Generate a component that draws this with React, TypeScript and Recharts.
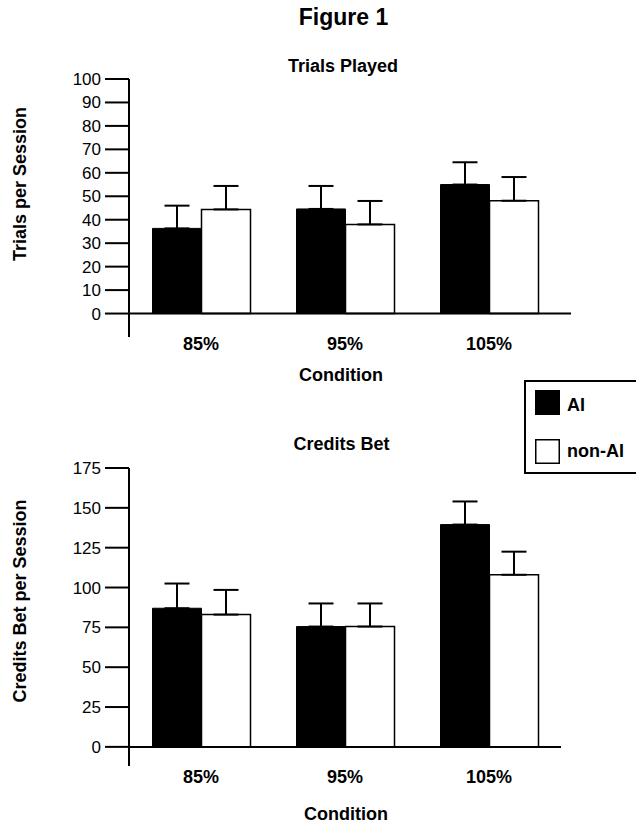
import React from 'react';
import { BarChart, Bar, XAxis, YAxis, ErrorBar, ReferenceLine } from 'recharts';

// values (means, upward SEM)
const categories = ['85%', '95%', '105%'];

const trialsAI = [36.3, 44.6, 55];
const trialsAIErr = [9.7, 9.8, 9.5];
const trialsNonAI = [44.4, 38, 48.1];
const trialsNonAIErr = [10, 10, 10.1];
const trialsTicks = [0, 10, 20, 30, 40, 50, 60, 70, 80, 90, 100];

const creditsAI = [87, 75.5, 139.5];
const creditsAIErr = [15.5, 14.5, 14.5];
const creditsNonAI = [83, 75.5, 108];
const creditsNonAIErr = [15.5, 14.5, 14.5];
const creditsTicks = [0, 25, 50, 75, 100, 125, 150, 175];

const FONT = '"Liberation Sans", Arial, Helvetica, sans-serif';

const buildRows = (ai: number[], aiErr: number[], non: number[], nonErr: number[]) =>
  categories.map((c, i) => ({
    cond: c,
    ai: ai[i],
    aiErr: [0, aiErr[i]],
    nonAi: non[i],
    nonAiErr: [0, nonErr[i]],
  }));

const trialsData = buildRows(trialsAI, trialsAIErr, trialsNonAI, trialsNonAIErr);
const creditsData = buildRows(creditsAI, creditsAIErr, creditsNonAI, creditsNonAIErr);

const condTick = (dy: number) => (props: any) => (
  <text x={props.x} y={props.y} dy={dy} textAnchor="middle" fontSize={18} fontWeight="bold" fill="#000" fontFamily={FONT}>
    {props.payload.value}
  </text>
);

const baseline = (ext: number) => (p: any) => (
  <line x1={p.x1} y1={p.y1} x2={p.x2 + ext} y2={p.y2} stroke="#000" strokeWidth={2} />
);

interface PanelProps {
  data: any[];
  ticks: number[];
  domain: [number, number];
  top: number;
  height: number;
  marginTop: number;
  marginRight: number;
  padRight: number;
  labelDy: number;
  lineExt: number;
}

const Panel: React.FC<PanelProps> = ({ data, ticks, domain, top, height, marginTop, marginRight, padRight, labelDy, lineExt }) => (
  <div style={{ position: 'absolute', left: 0, top }}>
    <BarChart
      width={636}
      height={height}
      data={data}
      margin={{ top: marginTop, right: marginRight, bottom: 0, left: 0 }}
      barCategoryGap={23.5}
      barGap={0}
    >
      <XAxis
        dataKey="cond"
        height={20}
        axisLine={false}
        tickLine={false}
        tickSize={0}
        tickMargin={0}
        padding={{ left: 0, right: padRight }}
        tick={condTick(labelDy)}
        interval={0}
      />
      <YAxis
        width={129}
        domain={domain}
        ticks={ticks}
        interval={0}
        allowDataOverflow
        axisLine={{ stroke: '#000', strokeWidth: 2 }}
        tickLine={{ stroke: '#000', strokeWidth: 2 }}
        tickSize={24}
        tickMargin={4}
        tick={{ fill: '#000', fontSize: 17, fontFamily: FONT }}
      />
      <Bar dataKey="ai" fill="#000" stroke="#000" strokeWidth={1} isAnimationActive={false}>
        <ErrorBar dataKey="aiErr" direction="y" width={12.5} stroke="#000" strokeWidth={2} isAnimationActive={false} />
      </Bar>
      <Bar dataKey="nonAi" fill="#fff" stroke="#000" strokeWidth={1.5} isAnimationActive={false}>
        <ErrorBar dataKey="nonAiErr" direction="y" width={12.5} stroke="#000" strokeWidth={2} isAnimationActive={false} />
      </Bar>
      <ReferenceLine y={0} stroke="#000" strokeWidth={2} shape={baseline(lineExt)} />
    </BarChart>
  </div>
);

export default function App() {
  return (
    <div style={{ position: 'absolute', left: 0, top: 0, width: 636, height: 827, overflow: 'hidden', background: '#fff', fontFamily: FONT }}>
      <Panel
        data={trialsData}
        ticks={trialsTicks}
        domain={[-10, 100]}
        top={0}
        height={357}
        marginTop={79}
        marginRight={70}
        padRight={5}
        labelDy={13}
        lineExt={5}
      />
      <Panel
        data={creditsData}
        ticks={creditsTicks}
        domain={[-12, 175]}
        top={400}
        height={386}
        marginTop={68}
        marginRight={75}
        padRight={0}
        labelDy={17}
        lineExt={0}
      />
      <svg width={636} height={827} style={{ position: 'absolute', left: 0, top: 0, pointerEvents: 'none' }} fontFamily={FONT} fill="#000">
        <text x={343.5} y={24.5} textAnchor="middle" fontSize={23} fontWeight="bold">Figure 1</text>
        <text x={343} y={72} textAnchor="middle" fontSize={18} fontWeight="bold">Trials Played</text>
        <text x={341} y={381} textAnchor="middle" fontSize={18} fontWeight="bold">Condition</text>
        <text x={26} y={184} textAnchor="middle" fontSize={18} fontWeight="bold" transform="rotate(-90 26 184)">Trials per Session</text>
        <text x={341.5} y={450} textAnchor="middle" fontSize={18} fontWeight="bold">Credits Bet</text>
        <text x={26} y={601} textAnchor="middle" fontSize={18} fontWeight="bold" transform="rotate(-90 26 601)">Credits Bet per Session</text>
        <text x={346} y={820} textAnchor="middle" fontSize={18} fontWeight="bold">Condition</text>
        <rect x={525} y={381} width={125} height={92} fill="#fff" stroke="#000" strokeWidth={2} />
        <rect x={535} y={390} width={25} height={25} fill="#000" />
        <rect x={535.75} y={439.75} width={23.5} height={23.5} fill="#fff" stroke="#000" strokeWidth={1.5} />
        <text x={567} y={411} fontSize={18} fontWeight="bold">AI</text>
        <text x={567} y={457} fontSize={18} fontWeight="bold">non-AI</text>
      </svg>
    </div>
  );
}
